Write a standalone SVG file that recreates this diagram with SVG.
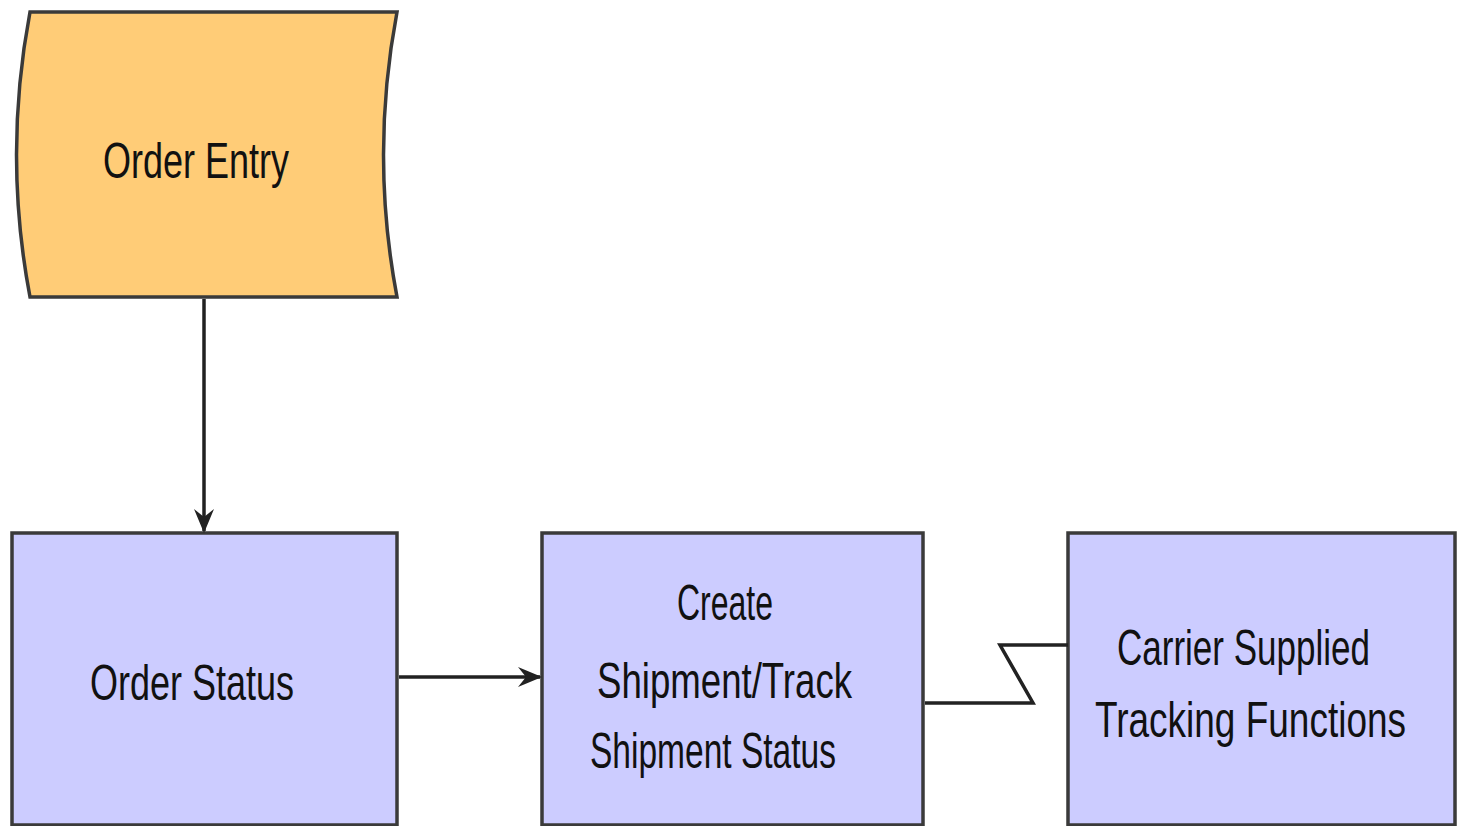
<svg xmlns="http://www.w3.org/2000/svg" width="1463" height="826" viewBox="0 0 1463 826">
<defs>
<style>
.box{fill:#CCCCFF;stroke:#3a3a3a;stroke-width:3.5}
.ev{fill:#FFCC77;stroke:#3a3a3a;stroke-width:3.5}
.lbl{font-family:"Liberation Sans",Arial,sans-serif;font-size:36px;fill:#111;}
.con{fill:none;stroke:#222;stroke-width:3.5}
</style>
<marker id="ah" viewBox="0 0 12 12" refX="11" refY="6" markerWidth="24" markerHeight="24" markerUnits="userSpaceOnUse" orient="auto">
<path d="M0,1 L12,6 L0,11 L4,6 Z" fill="#222"/>
</marker>
</defs>
<rect width="1463" height="826" fill="#fff"/>
<g id="order-entry">
<path class="ev" d="M30,12 L397,12 Q370,155 397,297 L30,297 Q3,155 30,12 Z"/>
<text class="lbl" transform="translate(103,178) scale(1,1.4)" textLength="186" lengthAdjust="spacingAndGlyphs">Order Entry</text>
</g>
<g id="order-status">
<rect class="box" x="12" y="533" width="385" height="292"/>
<text class="lbl" transform="translate(90,700) scale(1,1.4)" textLength="204" lengthAdjust="spacingAndGlyphs">Order Status</text>
</g>
<g id="create-shipment">
<rect class="box" x="542" y="533" width="381" height="292"/>
<text class="lbl" transform="translate(677,620) scale(1,1.4)" textLength="96" lengthAdjust="spacingAndGlyphs">Create</text>
<text class="lbl" transform="translate(597,698) scale(1,1.4)" textLength="255" lengthAdjust="spacingAndGlyphs">Shipment/Track</text>
<text class="lbl" transform="translate(590,768) scale(1,1.4)" textLength="246" lengthAdjust="spacingAndGlyphs">Shipment Status</text>
</g>
<g id="carrier">
<rect class="box" x="1068" y="533" width="387" height="292"/>
<text class="lbl" transform="translate(1117,665) scale(1,1.4)" textLength="253" lengthAdjust="spacingAndGlyphs">Carrier Supplied</text>
<text class="lbl" transform="translate(1095,737) scale(1,1.4)" textLength="311" lengthAdjust="spacingAndGlyphs">Tracking Functions</text>
</g>
<g id="connectors">
<path class="con" d="M204,299 L204,531" marker-end="url(#ah)"/>
<path class="con" d="M399,677 L540,677" marker-end="url(#ah)"/>
<path class="con" d="M925,703 L1033,703 L1000,645 L1068,645"/>
</g>
</svg>
